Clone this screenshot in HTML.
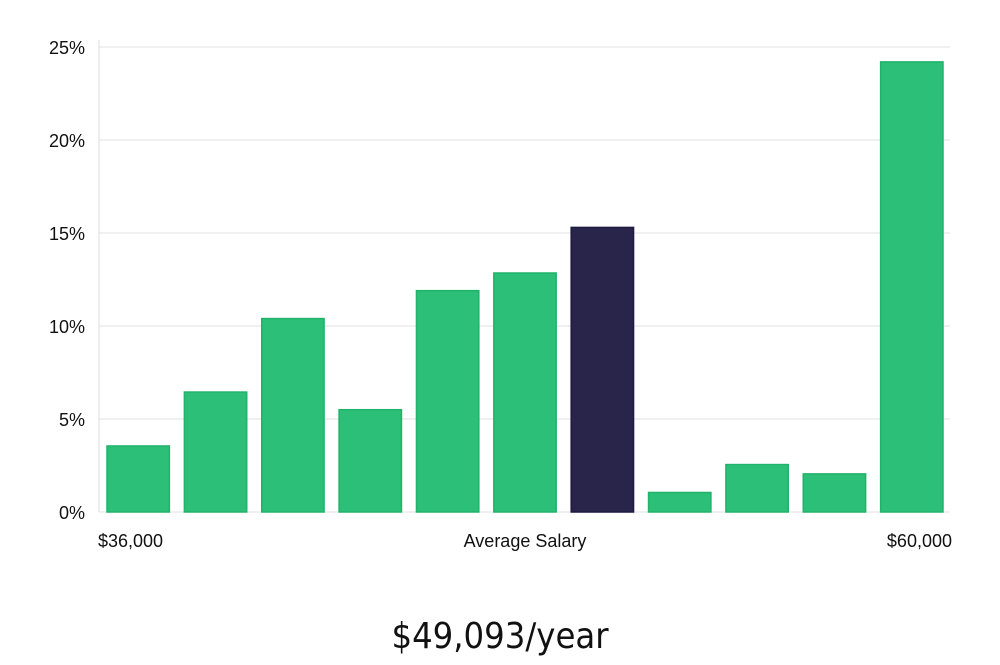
<!DOCTYPE html>
<html><head><meta charset="utf-8"><style>
body{margin:0;background:#fff;width:1000px;height:660px;overflow:hidden;font-family:"Liberation Sans","DejaVu Sans",sans-serif}
</style></head><body>
<svg width="1000" height="660">
<g id="grid"></g><g id="bars"></g><g id="labels"></g>
<line x1="99" y1="40" x2="99" y2="512" stroke="#ddd"/>
<text x="98" y="547" font-size="18" fill="#111">$36,000</text>
<text x="525" y="547" font-size="18" fill="#111" text-anchor="middle">Average Salary</text>
<text x="952" y="547" font-size="18" fill="#111" text-anchor="end">$60,000</text>
<text x="500" y="648" font-size="36" fill="#111" text-anchor="middle" font-family="DejaVu Sans Condensed, DejaVu Sans, sans-serif" font-weight="300">$49,093/year</text>
</svg>
<script>
const categories=["b1","b2","b3","b4","b5","b6","b7","b8","b9","b10","b11"];
const values=[3.55,6.45,10.4,5.5,11.9,12.85,15.3,1.05,2.55,2.05,24.2];
const highlight=[false,false,false,false,false,false,true,false,false,false,false];
const ticks=[0,5,10,15,20,25];
const tickLabels=["0%","5%","10%","15%","20%","25%"];
const ns="http://www.w3.org/2000/svg";
const y=v=>512-v*(465/25);
const x0=99,x1=950,step=(x1-x0)/categories.length;
const grid=document.getElementById('grid'),bars=document.getElementById('bars'),lab=document.getElementById('labels');
ticks.forEach((t,i)=>{
 const l=document.createElementNS(ns,'line');
 
 
 l.setAttribute('x1',x0);l.setAttribute('x2',x1);l.setAttribute('y1',y(t));l.setAttribute('y2',y(t));
 l.setAttribute('stroke','#e2e2e2');grid.appendChild(l);
 const tx=document.createElementNS(ns,'text');
 
 
 tx.setAttribute('x',85);tx.setAttribute('y',y(t)+7);tx.setAttribute('text-anchor','end');
 tx.setAttribute('font-size','18');tx.setAttribute('fill','#111');tx.textContent=tickLabels[i];lab.appendChild(tx);
});
categories.forEach((c,i)=>{
 const r=document.createElementNS(ns,'rect');
 
 
 const bx=x0+i*step+8;
 r.setAttribute('x',bx);r.setAttribute('width',step-15);
 r.setAttribute('y',y(values[i]));r.setAttribute('height',512-y(values[i]));
 r.setAttribute('fill',highlight[i]?'#29254a':'#2bbf77');
 r.setAttribute('stroke',highlight[i]?'#1d1940':'#22b36b');r.setAttribute('stroke-width','1.5');
 bars.appendChild(r);
});
</script>
</body></html>
